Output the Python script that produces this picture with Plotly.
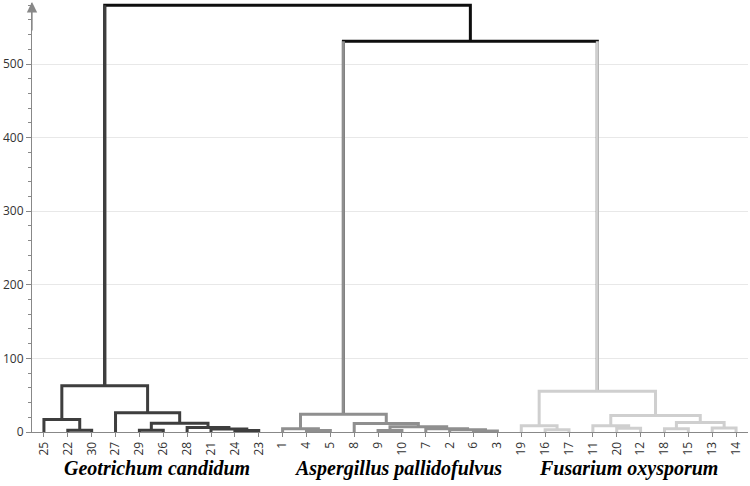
import plotly.graph_objects as go

# ---- data ----
leaf_labels = ["25", "22", "30", "27", "29", "26", "28", "21", "24", "23",
               "1", "4", "5", "8", "9", "10", "7", "2", "6", "3",
               "19", "16", "17", "11", "20", "12", "18", "15", "13", "14"]
leaf_group = ["G", "G", "G", "G", "G", "G", "G", "G", "G", "G",
              "A", "A", "A", "A", "A", "A", "A", "A", "A", "A",
              "F", "F", "F", "F", "F", "F", "F", "F", "F", "F"]

# merges: left child, right child, height, cluster
merge_left = ["22", "25", "24", "21", "28", "29", "m5", "27", "m1",
              "4", "1", "6", "2", "7", "9", "m14", "8", "m10",
              "16", "19", "20", "11", "18", "13", "m22", "m21", "m19",
              "m17", "m8"]
merge_right = ["30", "m0", "23", "m2", "m3", "26", "m4", "m6", "m7",
               "5", "m9", "3", "m11", "m12", "10", "m13", "m15", "m16",
               "17", "m18", "12", "m20", "15", "14", "m23", "m24", "m25",
               "m26", "m27"]
merge_height = [2.5, 17, 2, 4, 6, 2.5, 12, 26, 63,
                2, 4.5, 1.5, 3, 4.5, 2, 7, 11.5, 24,
                3, 8.5, 5, 8.5, 4.5, 5.5, 13, 22.5, 55.5,
                531, 580]
merge_group = ["G"] * 9 + ["A"] * 9 + ["F"] * 9 + ["T", "T"]

group_names = ["Geotrichum candidum", "Aspergillus pallidofulvus", "Fusarium oxysporum"]
group_keys = ["G", "A", "F"]
group_label_shift = [6, 8, 0]

colors = {"G": "#3e3e3e", "A": "#8f8f8f", "F": "#cfcfcf", "T": "#0e0e0e"}

# ---- build dendrogram geometry from the linkage ----
node_x, node_h, node_g = {}, {}, {}
for i, lab in enumerate(leaf_labels):
    node_x[lab] = i
    node_h[lab] = 0
    node_g[lab] = leaf_group[i]

segs = {k: ([], []) for k in colors}
for k, (a, b, h, g) in enumerate(zip(merge_left, merge_right, merge_height, merge_group)):
    xa, xb = node_x[a], node_x[b]
    xs, ys = segs[g]
    xs += [xa, xa, xb, xb, None]
    ys += [node_h[a], h, h, node_h[b], None]
    for c in (a, b):
        if node_g[c] != g:
            cx, cy = segs[node_g[c]]
            cx += [node_x[c], node_x[c], None]
            cy += [node_h[c], h, None]
    name = f"m{k}"
    node_x[name] = (xa + xb) / 2
    node_h[name] = h
    node_g[name] = g

fig = go.Figure()
for g in ["T", "G", "A", "F"]:
    xs, ys = segs[g]
    fig.add_trace(go.Scatter(x=xs, y=ys, mode="lines",
                             line=dict(color=colors[g], width=3),
                             hoverinfo="skip", showlegend=False))

# group labels
for key, name, sh in zip(group_keys, group_names, group_label_shift):
    idx = [i for i, gg in enumerate(leaf_group) if gg == key]
    cx = (idx[0] + idx[-1]) / 2
    fig.add_annotation(x=cx, xref="x", y=-0.084, yref="paper", xshift=sh,
                       text=f"<b><i>{name}</i></b>", showarrow=False,
                       yanchor="middle",
                       font=dict(family="Liberation Serif", size=20, color="#000"))

# axis arrow
fig.add_annotation(x=0, xref="paper", y=1, yref="paper", yshift=1,
                   ax=0, ay=30, axref="pixel", ayref="pixel", text="",
                   showarrow=True, arrowhead=2, arrowsize=1.6, arrowwidth=1.3,
                   arrowcolor="#888888")

fig.update_layout(
    width=750, height=486,
    margin=dict(l=32, r=2, t=3, b=54, autoexpand=False),
    plot_bgcolor="white", paper_bgcolor="white",
    font=dict(family="Open Sans", size=12, color="#333"),
    showlegend=False,
)
fig.update_xaxes(
    range=[-0.5, 29.5], tickvals=list(range(len(leaf_labels))), ticktext=leaf_labels,
    tickangle=-90, showline=True, linecolor="#888", linewidth=1, automargin=False,
    ticks="outside", ticklen=4, tickcolor="#888", showgrid=False, zeroline=False,
    tickfont=dict(size=12, color="#333"),
)
fig.update_yaxes(
    range=[0, 583], dtick=100, showgrid=True, gridcolor="#e8e8e8",
    showline=True, linecolor="#888", linewidth=1, automargin=False,
    ticks="outside", ticklen=5, tickcolor="#888", zeroline=False,
    minor=dict(dtick=20, ticks="outside", ticklen=3, tickcolor="#888", showgrid=False),
    tickfont=dict(size=12, color="#333"),
)

fig.write_html("out.html", config={"displayModeBar": False},
               post_script="document.body.style.margin='0';document.body.style.padding='0';")
